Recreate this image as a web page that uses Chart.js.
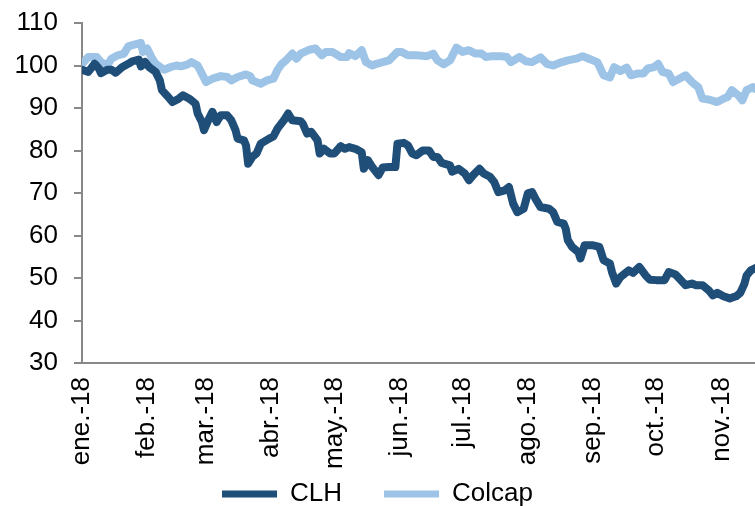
<!DOCTYPE html>
<html>
<head>
<meta charset="utf-8">
<script src="https://cdn.jsdelivr.net/npm/chart.js@4.4.1/dist/chart.umd.min.js"></script>
<style>
  html, body { margin: 0; padding: 0; background: #ffffff; }
  #wrap { width: 755px; height: 506px; }
</style>
</head>
<body>
<div id="wrap"><canvas id="c" width="755" height="506"></canvas></div>
<script>
// Tick labels (month starts, day offsets from 1 Jan 2018)
const monthLabels = ['ene.-18','feb.-18','mar.-18','abr.-18','may.-18','jun.-18','jul.-18','ago.-18','sep.-18','oct.-18','nov.-18'];
const monthStartDays = [0, 31, 59, 90, 120, 151, 181, 212, 243, 273, 304];

// CLH series (day offset, index value)
const clhDays = [0,3,6,8,9,12,14,16,19,22,24,27,28,30,32,35,37,38,41,43,46,48,51,54,55,57,58,60,62,64,66,69,71,73,74,77,78,79,81,83,85,89,91,93,96,98,100,104,105,107,109,112,113,115,118,120,123,125,127,130,133,134,136,138,141,143,146,149,150,153,155,157,159,162,165,167,169,171,175,176,179,182,184,186,189,191,194,196,198,201,203,205,207,210,212,214,216,218,222,224,226,229,230,231,233,236,237,239,243,246,248,251,252,254,256,260,262,265,268,270,273,277,279,282,284,287,290,292,295,298,300,302,305,308,311,313,315,316,318,320];
const clhValues = [99.0,98.5,100.4,99.3,98.2,99.0,99.0,98.3,99.6,100.4,101.0,101.4,99.8,100.8,99.6,98.5,96.5,94.2,92.6,91.4,92.2,93.0,92.2,91.0,88.7,86.7,84.8,87.1,89.1,86.7,88.3,88.3,87.1,84.8,82.8,82.4,81.2,76.9,78.5,79.3,81.6,82.8,83.3,85.2,87.1,88.7,87.1,86.9,86.3,84.0,84.4,82.4,79.3,80.4,79.3,79.3,81.0,80.4,80.8,80.4,79.6,75.7,77.7,76.1,74.2,76.0,76.1,76.1,81.6,81.8,81.2,79.3,78.9,80.0,80.0,78.5,78.5,77.1,76.5,75.0,75.7,74.6,73.0,74.2,75.7,74.6,73.8,72.6,70.2,70.6,71.4,67.5,65.5,66.3,69.9,70.2,68.3,66.7,66.3,65.5,63.2,62.8,61.6,58.9,57.3,56.1,54.6,57.7,57.7,57.3,54.2,53.4,51.4,48.7,50.2,51.8,51.2,52.6,50.6,49.6,49.5,49.5,51.4,50.9,49.9,48.3,48.7,48.3,48.3,47.1,45.9,46.5,45.7,45.2,45.7,46.5,48.7,50.6,51.8,52.3];

// Colcap series (day offset, index value)
const colcapDays = [0,3,7,9,12,14,17,20,22,24,28,29,31,33,35,39,42,45,47,50,52,55,57,59,62,66,69,71,74,78,80,81,85,88,91,93,95,97,100,102,104,108,111,114,116,119,123,126,127,130,133,135,138,140,143,146,150,152,155,159,164,167,169,172,175,178,181,184,187,190,192,195,199,202,204,208,211,214,218,221,224,227,231,235,238,241,245,248,251,253,256,259,261,264,267,269,272,274,276,279,281,284,287,290,293,295,298,302,305,307,309,312,314,316,319,320];
const colcapValues = [100.4,102.0,102.0,100.8,100.0,101.6,102.4,102.8,104.5,104.8,105.3,103.2,104.0,102.0,100.4,99.0,99.6,100.0,99.8,100.2,100.8,100.0,98.1,96.1,96.9,97.5,97.3,96.5,97.3,97.9,97.5,96.5,95.7,96.5,96.9,99.0,100.4,101.2,102.8,101.6,102.8,103.7,104.0,102.4,103.2,103.2,102.0,102.0,102.9,102.2,103.6,100.8,100.0,100.4,100.8,101.2,103.2,103.2,102.4,102.4,102.2,102.8,101.2,100.3,101.2,104.2,103.2,103.6,102.8,102.8,102.0,102.2,102.2,102.0,100.8,102.0,101.0,100.8,101.9,100.4,100.0,100.6,101.2,101.6,102.2,101.6,100.8,97.7,97.2,99.6,98.7,99.5,97.7,98.1,98.1,99.3,99.6,100.4,98.5,98.1,96.1,96.9,97.7,96.1,94.9,92.2,92.0,91.4,92.2,92.6,94.2,93.0,91.8,94.2,94.9,94.5];

const FONT = "'Liberation Sans', Arial, sans-serif";

const clhData = clhDays.map((d, i) => ({ x: d, y: clhValues[i] }));
const colcapData = colcapDays.map((d, i) => ({ x: d, y: colcapValues[i] }));

new Chart(document.getElementById('c'), {
  type: 'line',
  data: {
    datasets: [
      {
        label: 'CLH',
        data: clhData,
        borderColor: '#1F4E79',
        backgroundColor: '#1F4E79',
        borderWidth: 8,
        pointRadius: 0,
        tension: 0,
        borderJoinStyle: 'round',
        borderCapStyle: 'round',
        fill: false
      },
      {
        label: 'Colcap',
        data: colcapData,
        borderColor: '#9DC3E6',
        backgroundColor: '#9DC3E6',
        borderWidth: 8,
        pointRadius: 0,
        tension: 0,
        borderJoinStyle: 'round',
        borderCapStyle: 'round',
        fill: false
      }
    ]
  },
  options: {
    responsive: false,
    animation: false,
    devicePixelRatio: 1,
    layout: { padding: { top: 23, right: 0, left: 0, bottom: -11 } },
    plugins: {
      tooltip: { enabled: false },
      legend: {
        display: true,
        position: 'bottom',
        labels: {
          color: '#000000',
          font: { family: FONT, size: 26 },
          boxWidth: 55,
          boxHeight: 7,
          padding: 42,
          generateLabels: (chart) => {
            const items = Chart.defaults.plugins.legend.labels.generateLabels(chart);
            items.forEach(it => { it.lineWidth = 0; it.strokeStyle = it.fillStyle; });
            return items;
          }
        }
      }
    },
    scales: {
      x: {
        type: 'linear',
        min: 0,
        max: 320,
        afterBuildTicks: (scale) => {
          scale.ticks = monthStartDays.map(v => ({ value: v }));
        },
        afterFit: (scale) => {
          scale.height = 76;
          scale.paddingLeft = 0;
          scale.paddingRight = 0;
          scale._computeLabelArea = () => undefined;
        },
        ticks: {
          autoSkip: false,
          maxRotation: 90,
          minRotation: 90,
          padding: 14,
          color: '#000000',
          font: { family: FONT, size: 26 },
          callback: (value) => {
            const i = monthStartDays.indexOf(value);
            return i >= 0 ? monthLabels[i] : '';
          }
        },
        grid: { display: false, drawTicks: false },
        border: { display: true, color: '#888888', width: 2 }
      },
      y: {
        min: 30,
        max: 110,
        afterFit: (scale) => {
          scale.width = 82;
          scale.paddingTop = 0;
          scale.paddingBottom = 0;
        },
        ticks: {
          stepSize: 10,
          padding: 16,
          color: '#000000',
          font: { family: FONT, size: 26 }
        },
        grid: {
          drawOnChartArea: false,
          drawTicks: true,
          tickLength: 8,
          color: '#888888',
          lineWidth: 2
        },
        border: { display: true, color: '#888888', width: 2 }
      }
    }
  }
});
</script>
</body>
</html>
